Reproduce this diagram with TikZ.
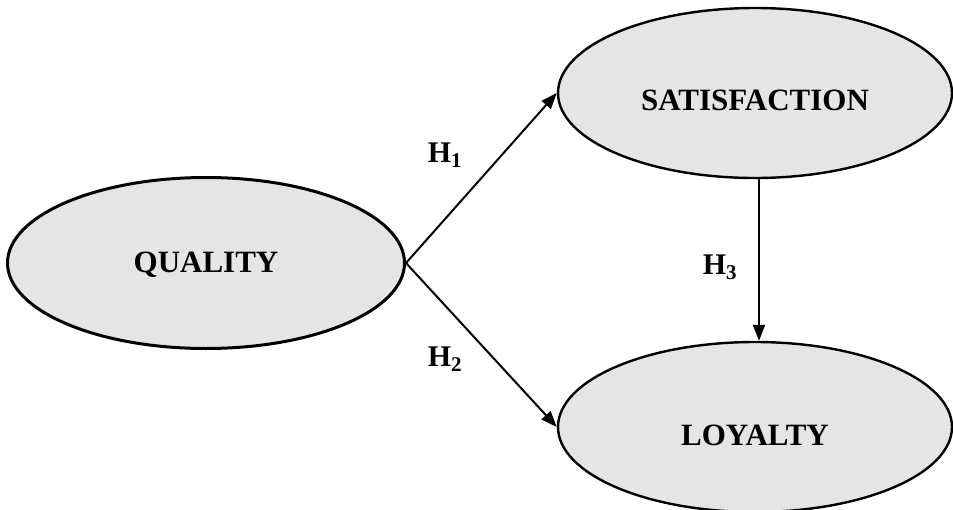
\documentclass[tikz,border=0pt]{standalone}
\usepackage{fontspec}
\setmainfont{Liberation Serif}
\usetikzlibrary{shapes.geometric,arrows.meta}
\definecolor{ellfill}{HTML}{E5E5E5}
\tikzset{
  construct/.style={ellipse, draw=black, fill=ellfill, inner sep=0pt},
  ctext/.style={font=\fontsize{31}{33}\selectfont\bfseries, text=black, inner sep=0pt},
  link/.style={line width=2pt, -{Triangle[length=16pt,width=12pt]}},
  hlabel/.style={font=\fontsize{30}{32}\selectfont\bfseries, inner sep=0pt}
}
\begin{document}
\begin{tikzpicture}[x=1pt,y=-1pt]
\useasboundingbox (0,0) rectangle (953,509);
\node[construct, line width=3pt, minimum width=397pt, minimum height=171pt,
  label={[ctext, yshift=-2pt]center:QUALITY}] (q) at (206,263) {};
\node[construct, line width=2.4pt, minimum width=394pt, minimum height=170pt,
  label={[ctext, yshift=-7pt]center:SATISFACTION}] (s) at (755,93) {};
\node[construct, line width=2.4pt, minimum width=394pt, minimum height=170pt,
  label={[ctext, yshift=-8pt]center:LOYALTY}] (l) at (755,427) {};
\draw[link] (q.east) -- (s.west);
\draw[link] (q.east) -- (l.west);
\draw[link] ([xshift=4pt]s.south) -- ([xshift=4pt]l.north);
\node[hlabel] (h1) at (445,155) {H\textsubscript{1}};
\node[hlabel] (h2) at (445,359) {H\textsubscript{2}};
\node[hlabel] (h3) at (720,267) {H\textsubscript{3}};
\end{tikzpicture}
\end{document}
